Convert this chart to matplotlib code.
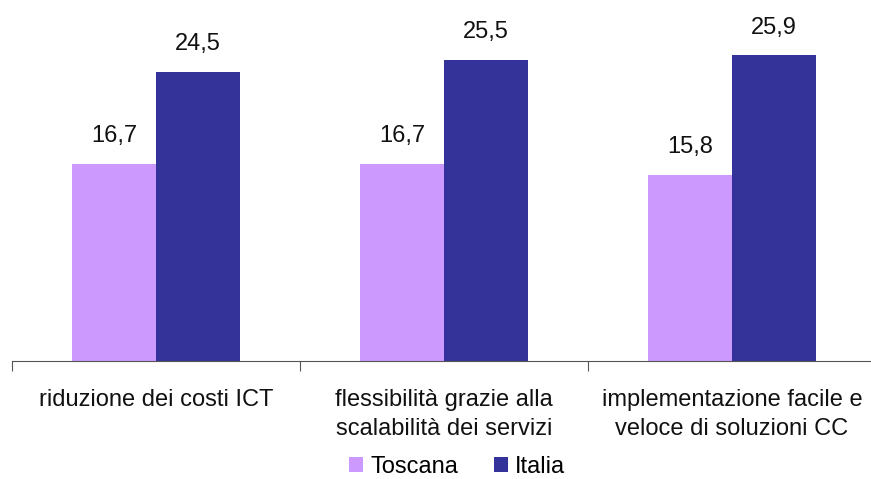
import numpy as np
import matplotlib.pyplot as plt

categories = ["riduzione dei costi ICT",
              "flessibilità grazie alla\nscalabilità dei servizi",
              "implementazione facile e\nveloce di soluzioni CC"]
toscana = [16.7, 16.7, 15.8]
italia = [24.5, 25.5, 25.9]

plt.rcParams['font.family'] = ['Liberation Sans', 'DejaVu Sans']

fig = plt.figure(figsize=(8.71, 4.79), dpi=100)
ax = fig.add_axes([12 / 871, 1 - 361 / 479, 864 / 871, 361 / 479])

x = np.arange(len(categories))
w = 0.29
b1 = ax.bar(x - w / 2, toscana, w, color='#CC99FF', label='Toscana')
b2 = ax.bar(x + w / 2, italia, w, color='#333399', label='Italia')

for bars, vals in ((b1, toscana), (b2, italia)):
    for r, v in zip(bars, vals):
        ax.annotate(f"{v:.1f}".replace('.', ','),
                    (r.get_x() + r.get_width() / 2, v),
                    xytext=(0, 12), textcoords='offset points',
                    ha='center', va='bottom', fontsize=17, color='#111111')

ax.set_xlim(-0.5, 2.5)
ax.set_ylim(0, 30.6)
for s in ('top', 'right', 'left'):
    ax.spines[s].set_visible(False)
ax.spines['bottom'].set_color('#555555')
ax.set_yticks([])
ax.set_xticks([-0.5, 0.5, 1.5, 2.5])
ax.set_xticklabels([])
ax.tick_params(axis='x', length=7, color='#555555', direction='out')
for i, c in enumerate(categories):
    ax.text(i, -2.4, c, ha='center', va='top', fontsize=17,
            linespacing=1.4, color='#111111')

fig.legend(handles=[b1, b2], loc='center', bbox_to_anchor=(457 / 871, 1 - 467 / 479),
           ncol=2, frameon=False, fontsize=17, handlelength=0.6, handleheight=0.6,
           handletextpad=0.3, columnspacing=1.5, borderpad=0)

fig.savefig('out.png', dpi=100)
